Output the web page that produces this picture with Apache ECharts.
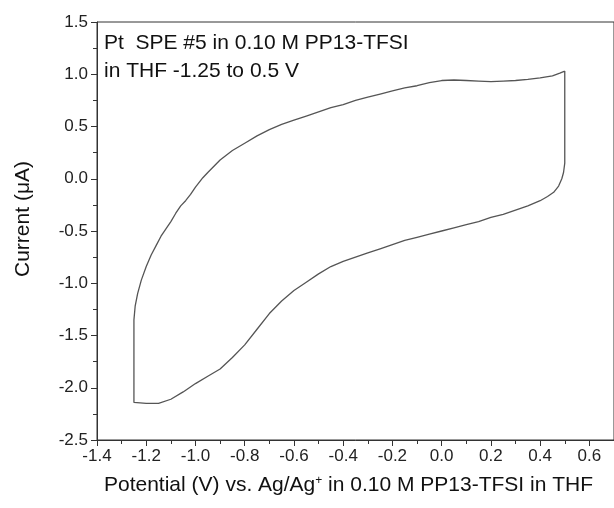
<!DOCTYPE html>
<html>
<head>
<meta charset="utf-8">
<script src="https://cdn.jsdelivr.net/npm/echarts@6/dist/echarts.min.js"></script>
<style>
html,body{margin:0;padding:0;background:#fff;}
#c{width:614px;height:508px;}
</style>
</head>
<body>
<div id="c"></div>
<script>
// Potential (V) vs. Ag/Ag+, in trace order around the CV loop
var potential = [0.50, 0.50, 0.495, 0.488, 0.475, 0.455, 0.43, 0.40,
  0.35, 0.30, 0.25, 0.20, 0.15, 0.10, 0.05, 0.00, -0.05, -0.10, -0.15, -0.20, -0.25, -0.30,
  -0.35, -0.40, -0.45, -0.50, -0.55, -0.60, -0.65, -0.70, -0.75, -0.80, -0.85, -0.90, -0.95,
  -1.00, -1.05, -1.10, -1.15, -1.20, -1.25,
  -1.25, -1.245, -1.235, -1.22, -1.20, -1.18, -1.16, -1.14, -1.12, -1.10, -1.08, -1.06, -1.04, -1.02, -1.00,
  -0.97, -0.95,
  -0.90, -0.85, -0.80, -0.75, -0.70, -0.65, -0.60, -0.55, -0.50, -0.45, -0.40, -0.35, -0.30, -0.25,
  -0.20, -0.15, -0.10, -0.05, 0.00, 0.05, 0.10, 0.15, 0.20, 0.25, 0.30, 0.35, 0.40, 0.45,
  0.48, 0.50];
// Current (uA)
var current = [1.03, 0.15, 0.06, 0.00, -0.07, -0.13, -0.17, -0.21,
  -0.26, -0.30, -0.34, -0.37, -0.41, -0.44, -0.47, -0.50, -0.53, -0.56, -0.59, -0.63, -0.67, -0.71,
  -0.75, -0.79, -0.84, -0.91, -0.99, -1.07, -1.17, -1.29, -1.44, -1.59, -1.71, -1.82, -1.89,
  -1.96, -2.04, -2.11, -2.15, -2.15, -2.14,
  -1.35, -1.22, -1.10, -0.97, -0.84, -0.73, -0.64, -0.55, -0.48, -0.41, -0.33, -0.26, -0.21, -0.15, -0.08,
  0.01, 0.06,
  0.18, 0.27, 0.34, 0.41, 0.47, 0.52, 0.56, 0.60, 0.64, 0.68, 0.71, 0.75, 0.78, 0.81,
  0.84, 0.87, 0.89, 0.92, 0.94, 0.945, 0.94, 0.935, 0.93, 0.935, 0.94, 0.95, 0.965, 0.985,
  1.01, 1.03];

var xTitle = 'Potential (V) vs. Ag/Ag{sup|+} in 0.10 M PP13-TFSI in THF';
var yTitle = 'Current (\u03bcA)';
var noteLines = ['Pt  SPE #5 in 0.10 M PP13-TFSI', 'in THF -1.25 to 0.5 V'];

var FONT = '"Liberation Sans", Arial, sans-serif';
var AX = '#333';

var chart = echarts.init(document.getElementById('c'), null, {renderer: 'canvas'});
chart.setOption({
  animation: false,
  backgroundColor: '#fff',
  grid: {left: 97, right: -2, top: 22, bottom: 68, show: true, borderColor: AX, borderWidth: 1, backgroundColor: 'transparent'},
  xAxis: {
    type: 'value', min: -1.4, max: 0.7, interval: 0.2,
    axisLine: {show: true, onZero: false, lineStyle: {color: AX, width: 1}},
    axisTick: {show: true, inside: false, length: 6, lineStyle: {color: AX}},
    minorTick: {show: true, splitNumber: 2, length: 4, lineStyle: {color: AX}},
    splitLine: {show: false},
    axisLabel: {showMaxLabel: false, color: '#222', fontFamily: FONT, fontSize: 17, margin: 8,
      formatter: function (v) { return v.toFixed(1); }},
    name: xTitle, nameLocation: 'middle', nameGap: 35,
    nameTextStyle: {color: '#111', fontFamily: FONT, fontSize: 21, padding: [0, 14, 0, 0],
      rich: {sup: {fontSize: 12, verticalAlign: 'top', padding: [0, 0, 8, 0], color: '#111', fontFamily: FONT}}}
  },
  yAxis: {
    type: 'value', min: -2.5, max: 1.5, interval: 0.5,
    axisLine: {show: true, onZero: false, lineStyle: {color: AX, width: 1}},
    axisTick: {show: true, inside: false, length: 6, lineStyle: {color: AX}},
    minorTick: {show: true, splitNumber: 2, length: 4, lineStyle: {color: AX}},
    splitLine: {show: false},
    axisLabel: {color: '#222', fontFamily: FONT, fontSize: 17, margin: 9,
      formatter: function (v) { return v.toFixed(1); }},
    name: yTitle, nameLocation: 'middle', nameGap: 63,
    nameTextStyle: {color: '#111', fontFamily: FONT, fontSize: 21, padding: [0, 0, 0, 24]}
  },
  graphic: [{
    type: 'text', left: 104, top: 29,
    style: {text: noteLines.join('\n'), font: '21px ' + FONT, fill: '#111', lineHeight: 28}
  }],
  series: [{
    type: 'line',
    data: potential.map(function (x, i) { return [x, current[i]]; }),
    showSymbol: false, smooth: false,
    lineStyle: {color: '#555', width: 1.3}
  }]
});
</script>
</body>
</html>
